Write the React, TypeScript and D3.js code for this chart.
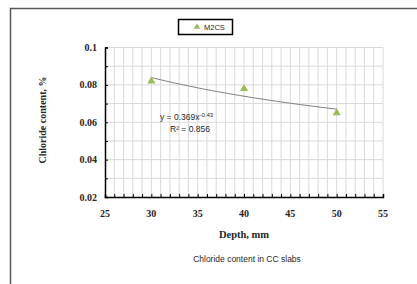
import React, { useEffect, useRef } from "react";
import * as d3 from "d3";

const depths = [30, 40, 50];
const chloride = [0.082, 0.078, 0.065];
const xTicks = [25, 30, 35, 40, 45, 50, 55];
const yTicks = [0.02, 0.04, 0.06, 0.08, 0.1];
const seriesName = "M2CS";
const equationText = "y = 0.369x";
const equationExp = "-0.43";
const r2Text = "R² = 0.856";

const App = () => {
  const ref = useRef<SVGSVGElement>(null);

  useEffect(() => {
    const width = 417;
    const height = 284;
    const svg = d3.select(ref.current);
    svg.selectAll("*").remove();

    // outer chart frame (extends past the picture)
    svg.append("rect")
      .attr("x", 10.5).attr("y", 8.5)
      .attr("width", 600).attr("height", 400)
      .attr("fill", "white")
      .attr("stroke", "#595959")
      .attr("stroke-width", 1.5);

    const x = d3.scaleLinear().domain([25, 55]).range([105, 383]);
    const y = d3.scaleLinear().domain([0.02, 0.1]).range([197, 47.5]);

    // gridlines
    const g = svg.append("g");
    g.selectAll(".vgrid")
      .data(d3.range(26, 56, 1))
      .enter()
      .append("line")
      .attr("x1", (d) => x(d)).attr("x2", (d) => x(d))
      .attr("y1", y(0.02)).attr("y2", y(0.1))
      .attr("stroke", "#d9d9d9").attr("stroke-width", 1);
    g.selectAll(".hgrid")
      .data(d3.range(3, 11, 1).map((d) => d / 100))
      .enter()
      .append("line")
      .attr("x1", x(25)).attr("x2", x(55))
      .attr("y1", (d) => y(d)).attr("y2", (d) => y(d))
      .attr("stroke", "#d9d9d9").attr("stroke-width", 1);

    // axes
    svg.append("g")
      .attr("transform", `translate(0,${y(0.02)})`)
      .call(d3.axisBottom(x).tickValues(d3.range(25, 56, 1)).tickSize(-3).tickFormat(() => ""))
      .call((s) => s.select(".domain").attr("stroke", "#000").attr("stroke-width", 1.5))
      .call((s) => s.selectAll(".tick line").attr("stroke", "#000"));
    svg.append("g")
      .attr("transform", `translate(${x(25)},0)`)
      .call(d3.axisLeft(y).tickValues(d3.range(2, 11, 1).map((d) => d / 100)).tickSize(-3).tickFormat(() => ""))
      .call((s) => s.select(".domain").attr("stroke", "#000").attr("stroke-width", 1.5))
      .call((s) => s.selectAll(".tick line").attr("stroke", "#000"));

    const tickFont = "'Liberation Serif', 'Times New Roman', serif";
    svg.selectAll(".xlab")
      .data(xTicks)
      .enter()
      .append("text")
      .attr("x", (d) => x(d))
      .attr("y", 217)
      .attr("text-anchor", "middle")
      .style("font-family", tickFont)
      .style("font-weight", "bold")
      .style("font-size", "10px")
      .style("fill", "#262626")
      .text((d) => d);
    svg.selectAll(".ylab")
      .data(yTicks)
      .enter()
      .append("text")
      .attr("x", 97)
      .attr("y", (d) => y(d) + 3.5)
      .attr("text-anchor", "end")
      .style("font-family", tickFont)
      .style("font-weight", "bold")
      .style("font-size", "10px")
      .style("fill", "#262626")
      .text((d) => String(d));

    svg.append("text")
      .attr("x", 244).attr("y", 238)
      .attr("text-anchor", "middle")
      .style("font-family", tickFont).style("font-weight", "bold")
      .style("font-size", "10.5px").style("fill", "#262626")
      .text("Depth, mm");
    svg.append("text")
      .attr("transform", "translate(46,120) rotate(-90)")
      .attr("text-anchor", "middle")
      .style("font-family", tickFont).style("font-weight", "bold")
      .style("font-size", "10px").style("fill", "#262626")
      .text("Chloride content, %");
    svg.append("text")
      .attr("x", 247).attr("y", 262)
      .attr("text-anchor", "middle")
      .style("font-family", "'Liberation Sans', Arial, sans-serif")
      .style("font-size", "8.5px").style("fill", "#262626")
      .text("Chloride content in CC slabs");

    // power trendline fitted to the points
    const lx = depths.map((d) => Math.log(d));
    const ly = chloride.map((d) => Math.log(d));
    const mx = d3.mean(lx)!;
    const my = d3.mean(ly)!;
    const b = d3.sum(lx.map((v, i) => (v - mx) * (ly[i] - my))) / d3.sum(lx.map((v) => (v - mx) ** 2));
    const a = Math.exp(my - b * mx);
    const trend = d3.range(30, 50.01, 0.5).map((d) => [d, a * Math.pow(d, b)] as [number, number]);
    svg.append("path")
      .datum(trend)
      .attr("d", d3.line<[number, number]>().x((d) => x(d[0])).y((d) => y(d[1])))
      .attr("fill", "none")
      .attr("stroke", "#7f7f7f")
      .attr("stroke-width", 1);

    const tri = d3.symbol().type(d3.symbolTriangle).size(28);
    svg.selectAll(".pt")
      .data(depths)
      .enter()
      .append("path")
      .attr("d", tri)
      .attr("transform", (d, i) => `translate(${x(d)},${y(chloride[i])})`)
      .attr("fill", "#9bbb59");

    // equation
    const eq = svg.append("text")
      .attr("x", 160).attr("y", 120)
      .style("font-family", "'Liberation Sans', Arial, sans-serif")
      .style("font-size", "8.5px").style("fill", "#262626");
    eq.append("tspan").text(equationText);
    eq.append("tspan").attr("dy", -3.5).style("font-size", "6px").text(equationExp);
    svg.append("text")
      .attr("x", 190).attr("y", 132)
      .attr("text-anchor", "middle")
      .style("font-family", "'Liberation Sans', Arial, sans-serif")
      .style("font-size", "8.5px").style("fill", "#262626")
      .text(r2Text);

    // legend
    svg.append("rect")
      .attr("x", 178.5).attr("y", 19.5)
      .attr("width", 54).attr("height", 15)
      .attr("fill", "white")
      .attr("stroke", "#000").attr("stroke-width", 1.5);
    svg.append("path")
      .attr("d", d3.symbol().type(d3.symbolTriangle).size(18)())
      .attr("transform", "translate(197,27)")
      .attr("fill", "#9bbb59");
    svg.append("text")
      .attr("x", 204).attr("y", 30)
      .style("font-family", "'Liberation Sans', Arial, sans-serif")
      .style("font-size", "7.5px").style("fill", "#262626")
      .text(seriesName);

    svg.attr("width", width).attr("height", height);
  }, []);

  return (
    <svg
      ref={ref}
      width={417}
      height={284}
      style={{ position: "absolute", left: 0, top: 0, overflow: "hidden", background: "white" }}
    ></svg>
  );
};

export default App;
